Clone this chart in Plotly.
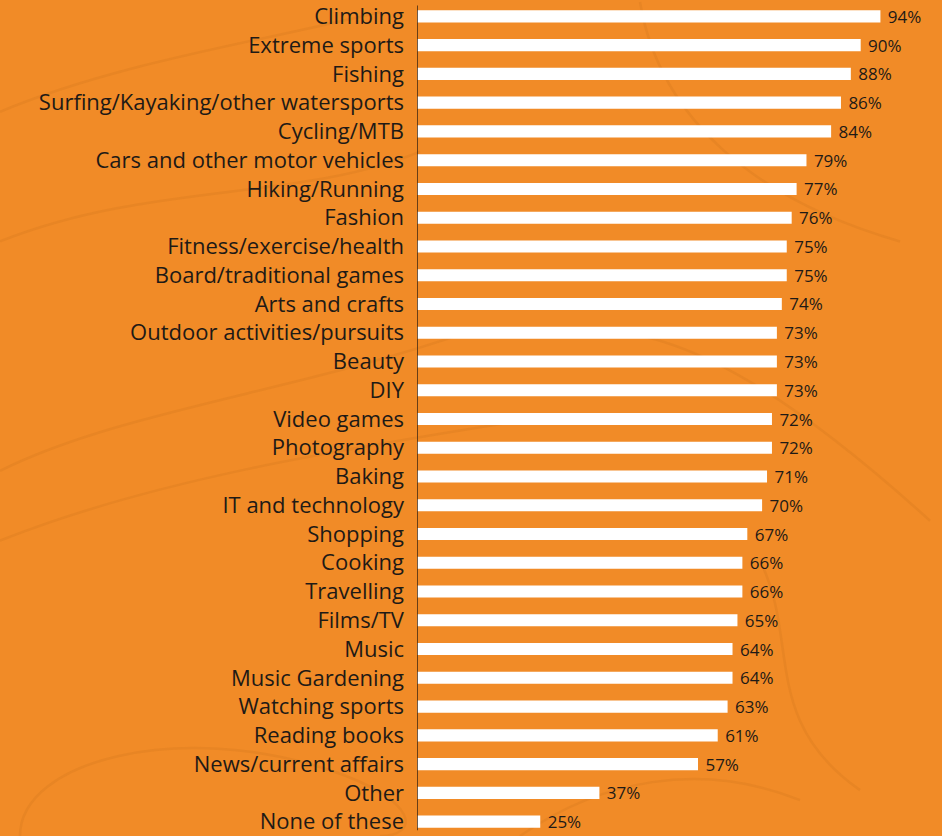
import plotly.graph_objects as go

categories = [
    "Climbing", "Extreme sports", "Fishing", "Surfing/Kayaking/other watersports",
    "Cycling/MTB", "Cars and other motor vehicles", "Hiking/Running", "Fashion",
    "Fitness/exercise/health", "Board/traditional games", "Arts and crafts",
    "Outdoor activities/pursuits", "Beauty", "DIY", "Video games", "Photography",
    "Baking", "IT and technology", "Shopping", "Cooking", "Travelling", "Films/TV",
    "Music", "Music Gardening", "Watching sports", "Reading books",
    "News/current affairs", "Other", "None of these",
]
values = [94, 90, 88, 86, 84, 79, 77, 76, 75, 75, 74, 73, 73, 73, 72, 72, 71,
          70, 67, 66, 66, 65, 64, 64, 63, 61, 57, 37, 25]

W, H = 942, 836
ML, MR = 417, 32
BG = "#F18B27"
INK = "#1E1A16"
CONTOUR = "rgba(210,118,28,0.28)"
FONT = "Open Sans"

fig = go.Figure(go.Bar(
    x=values,
    y=categories,
    orientation="h",
    marker=dict(color="white", line=dict(width=0)),
    width=0.42,
    text=[f" {v}%" for v in values],
    textposition="outside",
    constraintext="none",
    textfont=dict(family=FONT, size=17, color=INK),
    cliponaxis=False,
    hoverinfo="skip",
))


def to_paper(points):
    """Convert a list of (px, py) canvas pixels into a smooth paper-space path."""
    pw = W - ML - MR
    conv = [((x - ML) / pw, 1 - y / H) for x, y in points]
    d = f"M {conv[0][0]:.4f} {conv[0][1]:.4f}"
    for i in range(1, len(conv) - 2, 3):
        (a, b), (c, e), (f, g) = conv[i], conv[i + 1], conv[i + 2]
        d += f" C {a:.4f} {b:.4f}, {c:.4f} {e:.4f}, {f:.4f} {g:.4f}"
    return d


# faint topographic-style contour lines in the background
contours = [
    [(0, 110), (120, 60), (260, 40), (380, 10)],
    [(0, 240), (150, 180), (300, 200), (420, 150)],
    [(0, 470), (120, 410), (300, 390), (470, 330)],
    [(0, 540), (150, 480), (330, 450), (520, 420)],
    [(20, 836), (20, 760), (180, 720), (330, 770)],
    [(330, 770), (420, 800), (420, 836), (380, 836)],
    [(640, 0), (660, 120), (760, 200), (900, 240)],
    [(600, 330), (700, 330), (820, 420), (930, 520)],
    [(760, 560), (800, 640), (760, 720), (860, 790)],
    [(520, 836), (600, 780), (700, 760), (800, 800)],
]
for pts in contours:
    fig.add_shape(type="path", path=to_paper(pts), xref="paper", yref="paper",
                  line=dict(color=CONTOUR, width=2.5), layer="below")

# vertical baseline on the left edge of the bars
fig.add_shape(type="line", xref="x", yref="y", x0=0, x1=0, y0=-0.38, y1=28.3,
              line=dict(color="#3A2412", width=1.5))

fig.update_layout(
    width=W, height=H,
    margin=dict(l=ML, r=MR, t=0, b=0),
    paper_bgcolor=BG, plot_bgcolor="rgba(0,0,0,0)",
    showlegend=False,
    xaxis=dict(range=[0, 100], visible=False, fixedrange=True),
    yaxis=dict(
        categoryorder="array", categoryarray=categories,
        range=[28.5, -0.5], showgrid=False, zeroline=False, showline=False,
        ticks="", ticklabelstandoff=12,
        tickfont=dict(family=FONT, size=22, color=INK),
    ),
    bargap=0.58,
)

fig.write_html("out.html")
